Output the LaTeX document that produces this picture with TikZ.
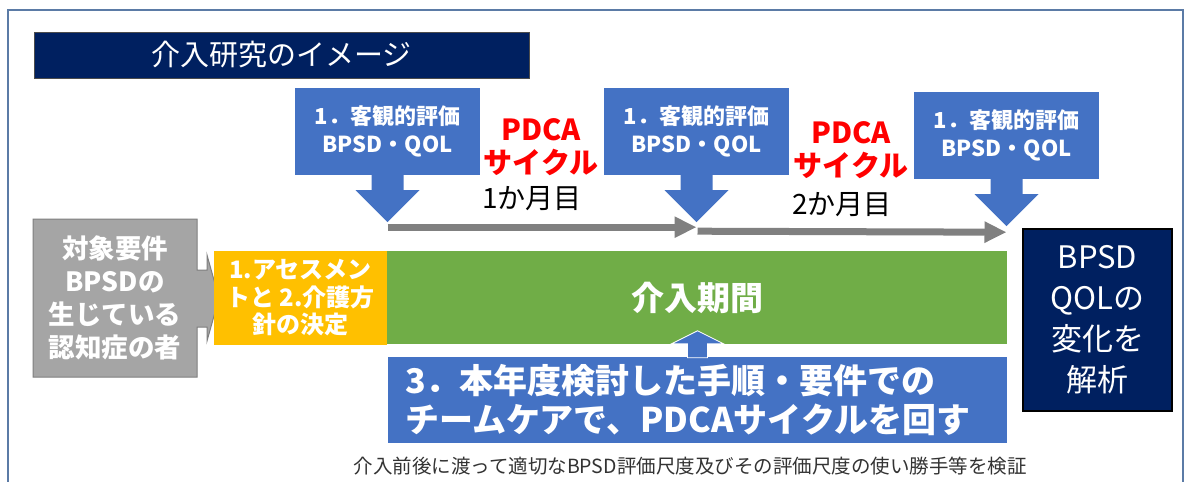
\documentclass[tikz,border=0pt]{standalone}
\usepackage{fontspec}
\setmainfont{Noto Sans CJK JP}
\usetikzlibrary{arrows.meta,calc}
\definecolor{navy}{HTML}{002060}
\definecolor{bluec}{HTML}{4472C4}
\definecolor{grayf}{HTML}{A5A5A5}
\definecolor{grayd}{HTML}{7F7F7F}
\definecolor{arrowg}{HTML}{808080}
\definecolor{yell}{HTML}{FFC000}
\definecolor{greenc}{HTML}{70AD47}
\definecolor{framec}{HTML}{5B7BA6}
\definecolor{txtg}{HTML}{333333}
\newcommand{\myfs}[2]{\fontsize{#1}{#2}\selectfont}
\begin{document}
\begin{tikzpicture}[x=1pt,y=-1pt,
  evalbox/.style={fill=bluec, text=white, minimum width=185, minimum height=87, inner sep=0, align=center, font=\myfs{22}{28}\bfseries},
  pdcatext/.style={text=red, align=center, inner sep=0, font=\myfs{29}{33}\bfseries},
  monthtext/.style={text=black, inner sep=0, font=\myfs{28}{30}},
  garrow/.style={draw=arrowg, line width=7pt, -{Triangle[length=22pt,width=20pt]}},
  downhead/.pic={\fill[bluec] (-16,-1) -- (-16,15) -- (-32,15) -- (0,47) -- (32,15) -- (16,15) -- (16,-1) -- cycle;},
  uphead/.pic={\filldraw[fill=bluec, draw=white, line width=0.8pt] (-10,1) -- (-10,-13) -- (-26,-13) -- (0,-26) -- (26,-13) -- (10,-13) -- (10,1) -- cycle;}
]
\useasboundingbox (0,0) rectangle (1189,482);
\fill[white] (0,0) rectangle (1189,482);
% frame
\draw[framec, line width=1.5pt] (8,500) -- (8,10) -- (1183,10) -- (1183,500);

% title
\node[fill=navy, draw=black!70, line width=0.8pt, text=white, minimum width=495, minimum height=46, inner sep=0, font=\myfs{29}{32}] (title) at (281.5,55) {介入研究のイメージ};

% evaluation callouts
\node[evalbox] (e1) at (387.5,131.5) {1．客観的評価\\BPSD・QOL};
\node[evalbox] (e2) at (696.5,131.5) {1．客観的評価\\BPSD・QOL};
\node[evalbox] (e3) at (1006.5,135.5) {1．客観的評価\\BPSD・QOL};
\pic at (e1.south) {downhead};
\pic at (e2.south) {downhead};
\pic at (e3.south) {downhead};
\path (e1.south) ++(0,47) coordinate (t1);
\path (e2.south) ++(0,47) coordinate (t2);
\path (e3.south) ++(0,47) coordinate (t3);

% timeline arrows
\draw[garrow] ($(t1)+(0,5)$) -- ($(t2)+(0,5)$);
\draw[garrow] ($(t2)+(1,9)$) -- ($(t3)+(0,6)$);

% PDCA labels
\node[pdcatext] (p1) at (541,147) {PDCA\\サイクル};
\node[pdcatext] (p2) at (851,150) {PDCA\\サイクル};
\node[monthtext] (m1) at (532,199) {1か月目};
\node[monthtext] (m2) at (842,205) {2か月目};

% source box with pointer
\filldraw[fill=grayf, draw=grayd, line width=1pt]
  (33,219) -- (197,219) -- (197,270) -- (207,270) -- (207,255) -- (219,298)
  -- (207,341) -- (207,327) -- (197,327) -- (197,377) -- (33,377) -- cycle;
\node[text=white, align=center, inner sep=0, font=\myfs{26.5}{33}\bfseries] (src) at (115,298) {対象要件\\BPSDの\\生じている\\認知症の者};

% assessment
\node[fill=yell, text=white, minimum width=173, minimum height=94, inner sep=0, align=center, font=\myfs{24}{27.5}\bfseries] (assess) at (300.5,298) {1.アセスメン\\トと 2.介護方\\針の決定};

% intervention period
\node[fill=greenc, text=white, minimum width=620, minimum height=93, inner sep=0, font=\myfs{33}{36}\bfseries] (period) at (697,297.5) {介入期間};

% team care box
\node[fill=bluec, text=white, minimum height=86, inner xsep=17pt, inner ysep=0, text width=585pt, align=left, font=\myfs{34}{39}\bfseries] (team) at (697.5,400) {3．本年度検討した手順・要件での\\チームケアで、PDCAサイクルを回す};
\pic at (team.north) {uphead};

% result box
\node[fill=navy, draw=black, line width=1.5pt, text=white, minimum width=149, minimum height=182, inner sep=0, align=center, font=\myfs{31}{41}] (result) at (1097.5,320) {BPSD\\QOLの\\変化を\\解析};

% footnote
\node[text=txtg, inner sep=0, font=\myfs{19.5}{22}] (note) at (690,466) {介入前後に渡って適切なBPSD評価尺度及びその評価尺度の使い勝手等を検証};
\end{tikzpicture}
\end{document}
